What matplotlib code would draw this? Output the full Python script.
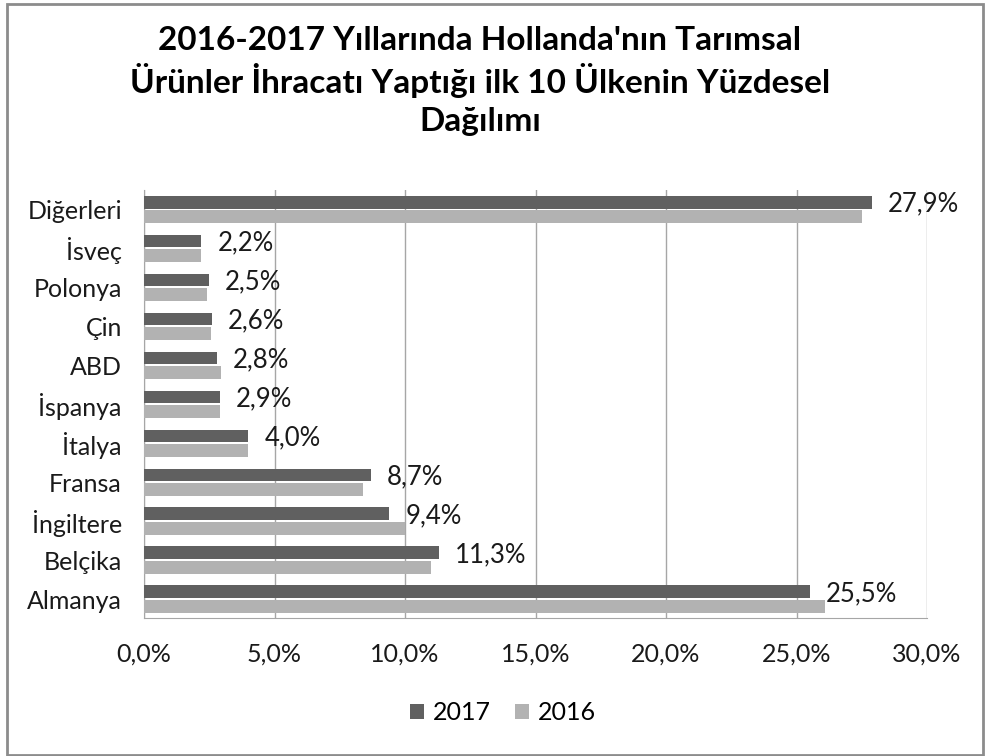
import matplotlib.pyplot as plt
import numpy as np
from matplotlib.ticker import FuncFormatter
from matplotlib.patches import Rectangle

plt.rcParams['font.family'] = ['Lato', 'DejaVu Sans']

ulkeler = ["Almanya", "Belçika", "İngiltere", "Fransa", "İtalya", "İspanya",
           "ABD", "Çin", "Polonya", "İsveç", "Diğerleri"]
y2017 = [25.5, 11.3, 9.4, 8.7, 4.0, 2.9, 2.8, 2.6, 2.5, 2.2, 27.9]
y2016 = [26.1, 11.0, 10.0, 8.4, 4.0, 2.9, 2.95, 2.55, 2.4, 2.2, 27.5]
etiketler = ["25,5%", "11,3%", "9,4%", "8,7%", "4,0%", "2,9%",
             "2,8%", "2,6%", "2,5%", "2,2%", "27,9%"]

koyu = "#606060"
acik = "#b2b2b2"
gri = "#a6a6a6"

fig = plt.figure(figsize=(9.85, 7.56), dpi=100)
ax = fig.add_axes([144/985, 1-618/756, 783/985, 428/756])

y = np.arange(len(ulkeler))
ax.barh(y + 0.19, y2017, height=0.33, color=koyu, label="2017", zorder=3)
ax.barh(y - 0.19, y2016, height=0.33, color=acik, label="2016", zorder=3)

for i in range(len(ulkeler)):
    ax.annotate(etiketler[i], (y2017[i], y[i] + 0.19), xytext=(11.5, -1.5),
                textcoords="offset points", va="center", ha="left",
                fontsize=18.5, color="#1a1a1a", zorder=4)

ax.set_xlim(0, 30)
ax.set_ylim(-0.48, 10.5)
ax.set_xticks(np.arange(0, 31, 5))
ax.xaxis.set_major_formatter(FuncFormatter(lambda v, p: f"{v:.1f}%".replace(".", ",")))
ax.set_yticks(y)
ax.set_yticklabels(ulkeler)
ax.tick_params(axis="both", length=0, labelsize=18, colors="#1a1a1a")
ax.tick_params(axis="y", pad=16)
ax.tick_params(axis="x", pad=18)
ax.grid(axis="x", color=gri, lw=1, zorder=0)
for s in ["top", "right"]:
    ax.spines[s].set_visible(False)
ax.spines["left"].set_color(gri)
ax.spines["bottom"].set_color(gri)

baslik = ["2016-2017 Yıllarında Hollanda'nın Tarımsal",
          "Ürünler İhracatı Yaptığı ilk 10 Ülkenin Yüzdesel",
          "Dağılımı"]
for satir, yy in zip(baslik, [41, 80, 121]):
    fig.text(480/985, 1-yy/756, satir, ha="center", va="center",
             fontsize=24, fontweight="bold")

fig.legend(loc="center", bbox_to_anchor=(503/985, 1-713/756), ncol=2,
           frameon=False, fontsize=18, handlelength=0.55, handleheight=0.55,
           handletextpad=0.35, columnspacing=1.0)

fig.patches.append(Rectangle((7/985, 1/756), 976/985, 751/756, transform=fig.transFigure,
                             fill=False, edgecolor="#8c8c8c", lw=2))

fig.savefig("out.png", dpi=100)
